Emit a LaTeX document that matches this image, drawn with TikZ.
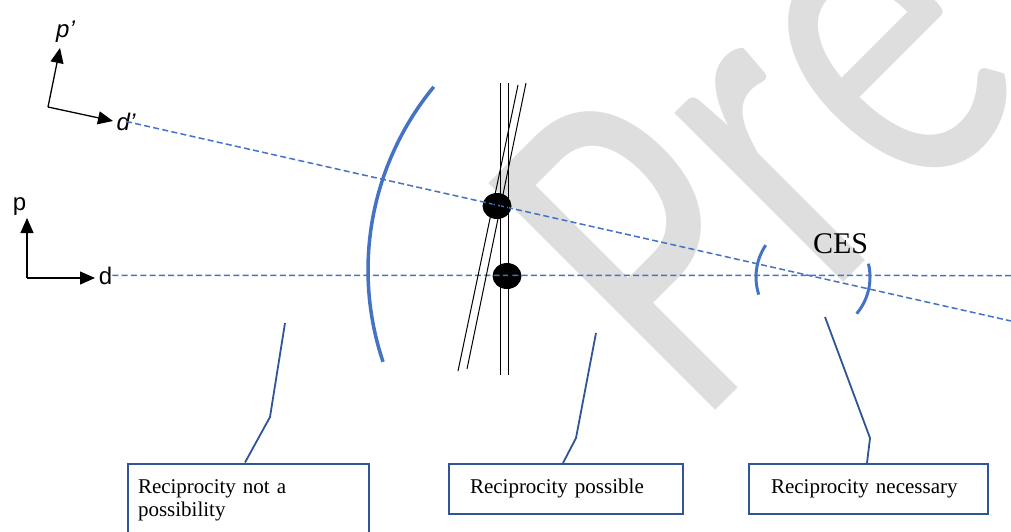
\documentclass[tikz,border=0pt]{standalone}
\usepackage{fontspec}
\setmainfont{Liberation Serif}
\newfontfamily\arialfont{Liberation Sans}
\newfontfamily\calibrifont{Carlito}
\usepackage{xcolor}
\definecolor{guideblue}{HTML}{4472C4}
\definecolor{boxblue}{HTML}{2F5597}
\definecolor{watergray}{HTML}{DEDEDE}
\usepackage{tikz}
\usetikzlibrary{shapes,arrows.meta}
\usetikzlibrary{positioning}
\tikzstyle{axisline} = [draw, line width=1.3pt, -{Triangle[length=15pt,width=13pt]}]
\tikzstyle{axislabel} = [font=\arialfont\fontsize{24}{24}\selectfont, inner sep=0pt, anchor=base]
\tikzstyle{guide} = [draw=guideblue, line width=1.5pt, dash pattern=on 6pt off 3.3pt]
\tikzstyle{region} = [draw=guideblue, line width=3.5pt]
\tikzstyle{budget} = [draw=black, line width=1pt]
\tikzstyle{eqpoint} = [ellipse, fill=black, minimum width=29pt, minimum height=26pt, inner sep=0pt]
\tikzstyle{labelbox} = [rectangle, draw=boxblue, line width=2pt, fill=white, anchor=north west,
    align=left, font=\fontsize{21}{23}\selectfont, text height=14pt, text depth=5pt, inner ysep=15.5pt]
\tikzstyle{pointer} = [draw=boxblue, line width=1.8pt]

\begin{document}
\begin{tikzpicture}[x=1pt,y=-1pt]
    \useasboundingbox (0,0) rectangle (1011,531);
    \clip (0,0) rectangle (1011,531);
    \fill[white] (0,0) rectangle (1011,531);

    % Watermark
    \node[font=\calibrifont\fontsize{500}{500}\selectfont, text=watergray, anchor=base west,
        inner sep=0pt, rotate=45, xscale=0.716] (watermark) at (697,429) {Pre};

    % Place nodes
    \coordinate (origin1) at (48,107);
    \coordinate (pptip) at (60,48);
    \coordinate (dptip) at (113,121);
    \coordinate (origin2) at (27,278);
    \coordinate (ptip) at (27,218);
    \coordinate (dtip) at (95,278);
    \coordinate (hend) at (1011,275.5);
    \coordinate (send) at (1011,321);

    \node[axislabel] (pp) at (65.5,37) {\itshape p’};
    \node[axislabel] (dp) at (126,130) {\itshape d’};
    \node[axislabel] (p) at (19.5,210) {p};
    \node[axislabel] (d) at (105.5,284) {d};

    \node[eqpoint] (eq1) at (497,206) {};
    \node[eqpoint] (eq2) at (507,276) {};

    \node[font=\fontsize{30}{30}\selectfont, anchor=base] (ces) at (840.5,253) {CES};

    \node[labelbox, inner xsep=10pt, text width=221pt, text depth=60pt] (box1) at (127,462.5)
        {Reciprocity not a\\possibility};
    \node[labelbox, inner xsep=21pt, text width=192pt] (box2) at (448,463) {Reciprocity possible};
    \node[labelbox, inner xsep=22pt, text width=195pt] (box3) at (748,463) {Reciprocity necessary};

    \coordinate (kink1) at (270,417);
    \coordinate (tip1) at (285,323);
    \coordinate (kink2) at (576,438);
    \coordinate (tip2) at (596,333);
    \coordinate (kink3) at (870,438);
    \coordinate (tip3) at (825,317);

    % Draw edges
    \path[guide] (dp.center) -- (send);
    \path[guide] (d.east) -- (hend);

    \path[axisline] (origin1) -- (pptip);
    \path[axisline] (origin1) -- (dptip);
    \path[axisline] (origin2) -- (ptip);
    \path[axisline] (origin2) -- (dtip);

    % regions
    \draw[region] ([shift={(219.5:288)}]656,270) arc[start angle=219.5, end angle=161.4, radius=288];
    \draw[region, line width=3pt] ([shift={(214:57)}]813,277) arc[start angle=214, end angle=162, radius=57];
    \draw[region, line width=3pt] ([shift={(-13.5:57)}]813,277) arc[start angle=-13.5, end angle=40, radius=57];

    \draw[budget] (500,83) -- (500,375);
    \draw[budget] (508,83) -- (508,375);
    \draw[budget] (518,85) -- (458,371);
    \draw[budget] (526,83) -- (467,369);

    \path[pointer] (box1.north west) ++(118,0) -- (kink1) -- (tip1);
    \path[pointer] (box2.north west) ++(115,0) -- (kink2) -- (tip2);
    \path[pointer] (box3.north west) ++(119,0) -- (kink3) -- (tip3);
\end{tikzpicture}
\end{document}
